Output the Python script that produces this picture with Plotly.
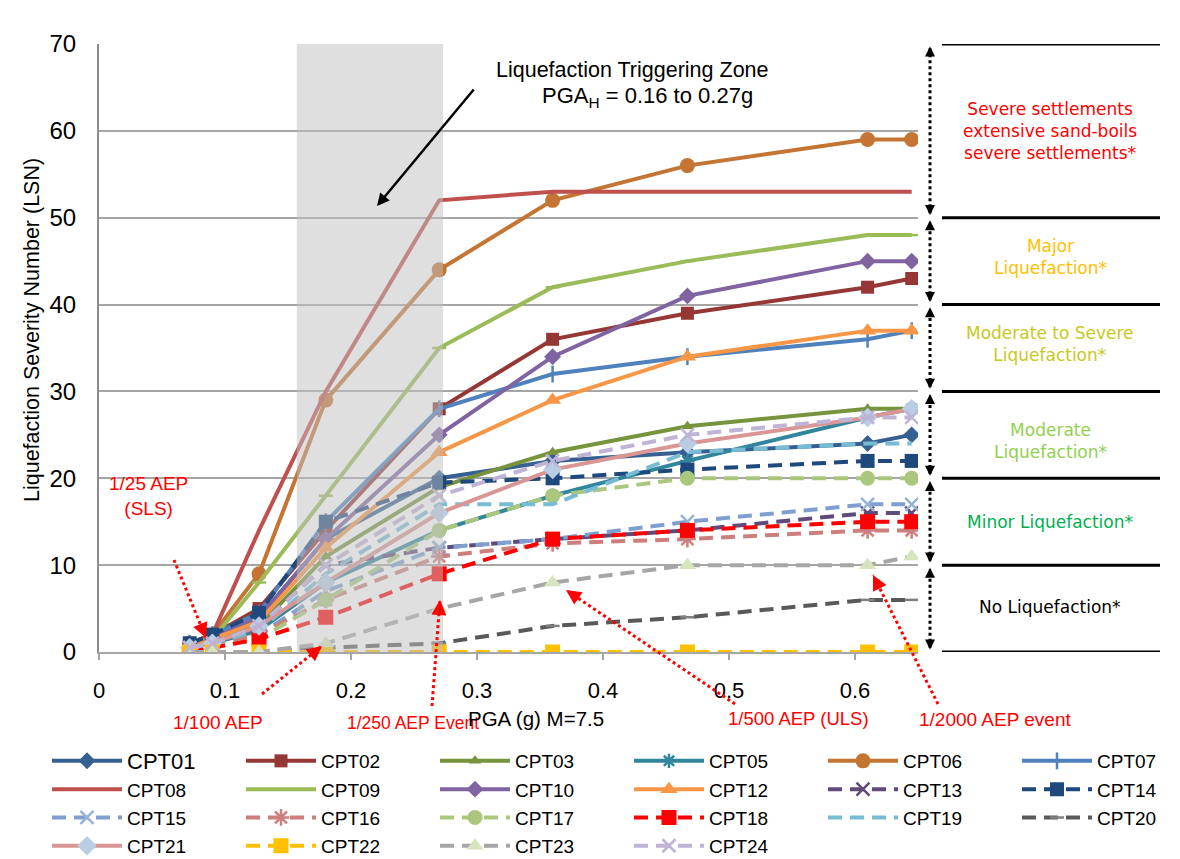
import plotly.graph_objects as go

# ---------------- data ----------------
PGA = [0.072, 0.09, 0.127, 0.18, 0.27, 0.36, 0.467, 0.61, 0.645]

CPT01 = [0.5, 1.5, 4, 13, 20, 22, 23, 24, 25]
CPT02 = [1, 2, 5, 14, 28, 36, 39, 42, 43]
CPT03 = [0.5, 1.5, 3, 11, 19, 23, 26, 28, 28]
CPT05 = [0.5, 1, 2.5, 8, 14, 18, 22, 27, 28]
CPT06 = [1, 2, 9, 29, 44, 52, 56, 59, 59]
CPT07 = [1, 2, 4.5, 15, 28, 32, 34, 36, 37]
CPT08 = [1, 2, 14, 30, 52, 53, 53, 53, 53]
CPT09 = [1, 1.5, 8, 18, 35, 42, 45, 48, 48]
CPT10 = [0.5, 1.5, 4, 13, 25, 34, 41, 45, 45]
CPT12 = [0.5, 1.5, 3.5, 12, 23, 29, 34, 37, 37]
CPT13 = [0.5, 1, 3, 10, 12, 13, 14, 16, 16]
CPT14 = [1, 2, 4.5, 15, 19.5, 20, 21, 22, 22]
CPT15 = [0.5, 1, 2, 7, 12, 13, 15, 17, 17]
CPT16 = [0.5, 1, 2, 6, 11, 12.5, 13, 14, 14]
CPT17 = [0, 0.5, 1.5, 6, 14, 18, 20, 20, 20]
CPT18 = [0, 0.5, 1.5, 4, 9, 13, 14, 15, 15]
CPT19 = [0.5, 1, 2.5, 9, 17, 17, 23, 24, 24]
CPT20 = [0, 0, 0, 0.5, 1, 3, 4, 6, 6]
CPT21 = [0.5, 1, 3, 8, 16, 21, 24, 27, 28]
CPT22 = [0, 0, 0, 0, 0, 0, 0, 0, 0]
CPT23 = [0, 0, 0, 1, 5, 8, 10, 10, 11]
CPT24 = [0.5, 1, 3, 10, 18, 22, 25, 27, 27]

NAMES = ["CPT01", "CPT02", "CPT03", "CPT05", "CPT06", "CPT07", "CPT08", "CPT09",
         "CPT10", "CPT12", "CPT13", "CPT14", "CPT15", "CPT16", "CPT17", "CPT18",
         "CPT19", "CPT20", "CPT21", "CPT22", "CPT23", "CPT24"]
VALUES = [CPT01, CPT02, CPT03, CPT05, CPT06, CPT07, CPT08, CPT09, CPT10, CPT12, CPT13,
          CPT14, CPT15, CPT16, CPT17, CPT18, CPT19, CPT20, CPT21, CPT22, CPT23, CPT24]

ZONE = [0.157, 0.273]            # liquefaction triggering zone (PGA)
LSN_LEVELS = [0, 10, 20, 30, 40, 50, 70]
LEVEL_LABELS = [
    ("No Liquefaction*", 5.2, "#000000"),
    ("Minor Liquefaction*", 15.0, "#00B050"),
    ("Moderate<br>Liquefaction*", 24.3, "#92D050"),
    ("Moderate to Severe<br>Liquefaction*", 35.5, "#C8C81E"),
    ("Major<br>Liquefaction*", 45.5, "#FFC000"),
    ("Severe settlements<br>extensive sand-boils<br>severe settlements*", 60.0, "#FF0000"),
]

# ---------------- styles ----------------
SOLID, DASH = "solid", "14px,8px"
STYLE = {
    "CPT01": ("#376092", SOLID, "diamond", "#376092", 13),
    "CPT02": ("#953735", SOLID, "square", "#953735", 13),
    "CPT03": ("#77933C", SOLID, "triangle-up", "#77933C", 11),
    "CPT05": ("#31859C", SOLID, "asterisk-open", "#31859C", 12),
    "CPT06": ("#C47533", SOLID, "circle", "#C47533", 15),
    "CPT07": ("#4F81BD", SOLID, "line-ns-open", "#4F81BD", 12),
    "CPT08": ("#C0504D", SOLID, None, "#C0504D", 8),
    "CPT09": ("#9BBB59", SOLID, "line-ew-open", "#9BBB59", 10),
    "CPT10": ("#8064A2", SOLID, "diamond", "#8064A2", 13),
    "CPT12": ("#F79646", SOLID, "triangle-up", "#F79646", 15),
    "CPT13": ("#604A7B", DASH, "x-thin-open", "#604A7B", 13),
    "CPT14": ("#1F497D", DASH, "square", "#1F497D", 14),
    "CPT15": ("#7E9FD0", DASH, "x-thin-open", "#95B3D7", 13),
    "CPT16": ("#CC7F7D", DASH, "asterisk-open", "#CC7F7D", 14),
    "CPT17": ("#ABC77E", DASH, "circle", "#ABC77E", 15),
    "CPT18": ("#FF0000", DASH, "square", "#FF0000", 15),
    "CPT19": ("#78BCD4", DASH, None, "#78BCD4", 8),
    "CPT20": ("#595959", DASH, "line-ew-open", "#7F7F7F", 10),
    "CPT21": ("#DA9694", SOLID, "diamond", "#B9CDE5", 15),
    "CPT22": ("#FFC000", DASH, "square", "#FFC000", 15),
    "CPT23": ("#A6A6A6", DASH, "triangle-up", "#D7E4BD", 15),
    "CPT24": ("#BFB3D6", DASH, "x-thin-open", "#BFB3D6", 13),
}

# figure is shifted 8px by the page body margin -> keep it inside the window
OFF = 8
W, H = 1180 - OFF, 859 - OFF
ML, MR, MT, MB = 99 - OFF, 262, 44 - OFF, 207
PW, PH = W - ML - MR, H - MT - MB


def px(xpix):
    """window pixel x (reference) -> paper x"""
    return (xpix - OFF - ML) / PW


def py(ypix):
    """window pixel y (reference) -> paper y"""
    return (H - MB - (ypix - OFF)) / PH


FONT = "Liberation Sans, Arial, sans-serif"

fig = go.Figure()
layout_legends = {}
for i, (name, vals) in enumerate(zip(NAMES, VALUES)):
    lc, dash, sym, mc, ms = STYLE[name]
    lid = "legend" if i == 0 else f"legend{i + 1}"
    open_sym = sym is not None and sym.endswith("open")
    marker = dict(symbol=sym or "circle", size=ms if sym else 1, color=mc,
                  opacity=1 if sym else 0,
                  line=dict(width=2.5 if open_sym else 0, color=mc))
    fig.add_trace(go.Scatter(
        x=PGA, y=vals, name=name, legend=lid,
        mode="lines+markers" if sym else "lines",
        line=dict(color=lc, width=4, dash=dash),
        marker=marker,
    ))
    r, c = divmod(i, 6)
    xs = 52 + 194 * c - 5
    ys = 761 + 28.3 * r
    layout_legends[lid] = dict(
        x=px(xs), y=py(ys), xanchor="left", yanchor="middle",
        bgcolor="rgba(0,0,0,0)", borderwidth=0, itemwidth=70,
        font=dict(family=FONT, size=22 if i == 0 else 19, color="#000000"),
    )

shapes = []
# triggering zone band (drawn above the lines, semi transparent)
shapes.append(dict(type="rect", xref="x", yref="y", x0=ZONE[0], x1=ZONE[1], y0=0, y1=70,
                   fillcolor="#BFBFBF", opacity=0.5, line=dict(width=0), layer="above"))
# right level lines
for lv in LSN_LEVELS:
    shapes.append(dict(type="line", xref="paper", yref="y", x0=px(942), x1=px(1160), y0=lv, y1=lv,
                       line=dict(color="#000000", width=3)))
annotations = []
# right dotted double arrows
for a, b in zip(LSN_LEVELS[:-1], LSN_LEVELS[1:]):
    shapes.append(dict(type="line", xref="paper", yref="y", x0=px(930), x1=px(930),
                       y0=a + 0.5, y1=b - 0.5, line=dict(color="#000000", width=3, dash="dot")))
    annotations.append(dict(xref="paper", yref="y", x=px(930), y=b - 0.3, ax=0, ay=9,
                            showarrow=True, arrowhead=2, arrowsize=1, arrowwidth=2,
                            arrowcolor="#000000", text=""))
    annotations.append(dict(xref="paper", yref="y", x=px(930), y=a + 0.3, ax=0, ay=-9,
                            showarrow=True, arrowhead=2, arrowsize=1, arrowwidth=2,
                            arrowcolor="#000000", text=""))
for txt, yv, col in LEVEL_LABELS:
    annotations.append(dict(xref="paper", yref="y", x=px(1050), y=yv, text=txt, showarrow=False,
                            xanchor="center", yanchor="middle",
                            font=dict(family="DejaVu Sans", size=17, color=col), align="center"))

# red AEP call-outs: (text, text centre px, dotted start px, tip px, font size)
CALLOUTS = [
    ("1/25 AEP<br>(SLS)", (148, 496), (174, 560), (206, 638), 19),
    ("1/100 AEP", (218, 722), (262, 694), (322, 646), 19),
    ("1/250 AEP Event", (413, 723), (432, 706), (440, 600), 17.5),
    ("1/500 AEP (ULS)", (798, 718), (735, 704), (566, 590), 18.5),
    ("1/2000 AEP event", (995, 719), (938, 704), (873, 575), 19),
]
for txt, (tx, ty), (sx, sy), (ex, ey), fs in CALLOUTS:
    annotations.append(dict(xref="paper", yref="paper", x=px(tx), y=py(ty), text=txt,
                            xanchor="center", yanchor="middle",
                            showarrow=False, font=dict(family=FONT, size=fs, color="#FF0000"),
                            align="center"))
    shapes.append(dict(type="line", xref="paper", yref="paper", x0=px(sx), y0=py(sy),
                       x1=px(ex), y1=py(ey), line=dict(color="#FF0000", width=3, dash="dot")))
    dx, dy = sx - ex, sy - ey
    n = (dx * dx + dy * dy) ** 0.5
    annotations.append(dict(xref="paper", yref="paper", x=px(ex), y=py(ey),
                            ax=dx / n * 12, ay=dy / n * 12, text="", showarrow=True,
                            arrowhead=2, arrowsize=1.2, arrowwidth=2.5, arrowcolor="#FF0000"))

# triggering zone label + black arrow
annotations.append(dict(xref="paper", yref="paper", x=px(632), y=py(70),
                        xanchor="center", yanchor="middle",
                        text="Liquefaction Triggering Zone", showarrow=False,
                        font=dict(family=FONT, size=21.5, color="#000000")))
annotations.append(dict(xref="paper", yref="paper", x=px(540), y=py(97),
                        xanchor="left", yanchor="middle",
                        text="PGA<sub>H</sub> = 0.16 to 0.27g", showarrow=False,
                        font=dict(family=FONT, size=22, color="#000000")))
annotations.append(dict(xref="paper", yref="paper", x=px(377), y=py(206), ax=98, ay=-118,
                        text="", showarrow=True, arrowhead=2, arrowsize=1, arrowwidth=2.5,
                        arrowcolor="#000000"))
# axis titles
annotations.append(dict(xref="paper", yref="paper", x=px(536), y=py(718), text="PGA (g) M=7.5",
                        xanchor="center", yanchor="middle",
                        showarrow=False, font=dict(family=FONT, size=20.5, color="#000000")))
annotations.append(dict(xref="paper", yref="paper", x=px(32), y=py(330), textangle=-90,
                        xanchor="center", yanchor="middle",
                        text="Liquefaction Severity Number (LSN)", showarrow=False,
                        font=dict(family=FONT, size=21.5, color="#000000")))

# outer chart border (left edge)
shapes.append(dict(type="line", xref="paper", yref="paper", x0=px(7), x1=px(7), y0=py(8), y1=py(859),
                   line=dict(color="#A6A6A6", width=2)))

fig.update_layout(
    width=W, height=H, margin=dict(l=ML, r=MR, t=MT, b=MB, autoexpand=False),
    paper_bgcolor="#FFFFFF", plot_bgcolor="#FFFFFF",
    shapes=shapes, annotations=annotations, showlegend=True,
    **layout_legends,
)
fig.update_xaxes(range=[0, 0.65], dtick=0.1, tick0=0, showgrid=False, zeroline=False,
                 showline=True, linecolor="#A6A6A6", linewidth=2,
                 ticks="outside", ticklen=6, tickcolor="#A6A6A6", tickwidth=2,
                 ticklabelstandoff=12,
                 tickfont=dict(family=FONT, size=22, color="#000000"))
fig.update_yaxes(range=[0, 70], dtick=10, showgrid=True, gridcolor="#A6A6A6", gridwidth=2,
                 zeroline=False, showline=True, linecolor="#8C8C8C", linewidth=2, ticks="",
                 ticklabelstandoff=16,
                 tickfont=dict(family=FONT, size=24, color="#000000"))

fig.write_html("out.html")
